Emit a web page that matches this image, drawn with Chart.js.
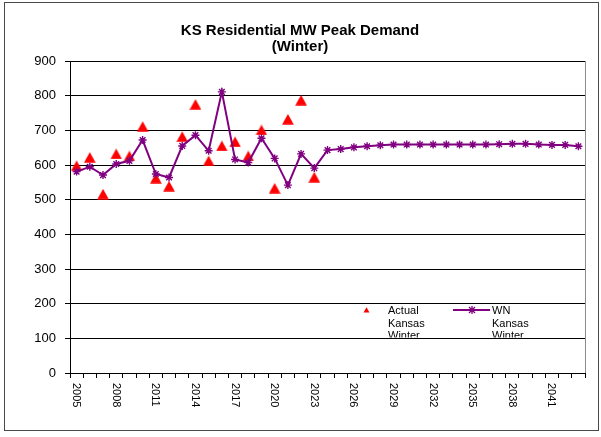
<!DOCTYPE html>
<html>
<head>
<meta charset="utf-8">
<script src="https://cdn.jsdelivr.net/npm/chart.js@4/dist/chart.umd.min.js"></script>
<style>
  html, body { margin: 0; padding: 0; background: #ffffff; }
  #wrap { width: 601px; height: 437px; }
</style>
</head>
<body>
<div id="wrap"><canvas id="c" width="601" height="437"></canvas></div>
<script>
const chartTitle = ['KS Residential MW Peak Demand', '(Winter)'];

const years = ['2005','2006','2007','2008','2009','2010','2011','2012','2013','2014',
               '2015','2016','2017','2018','2019','2020','2021','2022','2023','2024',
               '2025','2026','2027','2028','2029','2030','2031','2032','2033','2034',
               '2035','2036','2037','2038','2039','2040','2041','2042','2043'];

const xTickLabels = ['2005','2008','2011','2014','2017','2020','2023','2026','2029','2032','2035','2038','2041'];

const yTickValues = [0,100,200,300,400,500,600,700,800,900];

const actualKansasWinter = [598, 622, 516, 632, 626, 711, 562, 539, 682, 775,
                            612, 655, 667, 626, 701, 533, 732, 787, 565];

const wnKansasWinter = [581, 595, 571, 603, 612, 672, 574, 564, 655, 686,
                        641, 811, 616, 607, 677, 619, 542, 632, 591, 643,
                        646, 651, 654, 657, 659, 659, 659, 659, 659, 659,
                        659, 659, 660, 661, 661, 659, 658, 658, 654];

const seriesNames = [['Actual','Kansas','Winter'], ['WN','Kansas','Winter']];

const RED = '#FF0000';
const PURPLE = '#800080';
const FONT = '"Liberation Sans", Arial, Helvetica, sans-serif';

// Excel-like triangle marker (bounding box centred on the point)
const tri = document.createElement('canvas');
tri.width = 12; tri.height = 11;
(function(){
  const t = tri.getContext('2d');
  t.fillStyle = RED;
  t.beginPath();
  t.moveTo(6, 0.3);
  t.lineTo(11.8, 10.7);
  t.lineTo(0.2, 10.7);
  t.closePath();
  t.fill();
})();

const decor = {
  id: 'decor',
  afterDraw(chart) {
    const ctx = chart.ctx;
    const area = chart.chartArea;
    const xs = chart.scales.x;
    ctx.save();
    // title
    ctx.fillStyle = '#000';
    ctx.font = 'bold 15px ' + FONT;
    ctx.textAlign = 'center';
    ctx.textBaseline = 'middle';
    ctx.fillText(chartTitle[0], 300, 31);
    ctx.fillText(chartTitle[1], 300, 47);

    // x tick labels, rotated to read top-to-bottom
    ctx.font = '11px ' + FONT;
    ctx.textAlign = 'left';
    ctx.textBaseline = 'middle';
    years.forEach((y, i) => {
      if (xTickLabels.indexOf(y) === -1) return;
      const px = xs.getPixelForValue(i);
      ctx.save();
      ctx.translate(px, area.bottom + 10);
      ctx.rotate(Math.PI / 2);
      ctx.fillText(y, 0, 0.5);
      ctx.restore();
    });

    // plot area right border (grey)
    ctx.strokeStyle = '#8c8c8c';
    ctx.lineWidth = 1;
    ctx.beginPath();
    ctx.moveTo(Math.round(area.right) + 0.5, area.top);
    ctx.lineTo(Math.round(area.right) + 0.5, area.bottom);
    ctx.stroke();

    // legend (inside the plot)
    ctx.save();
    ctx.beginPath();
    ctx.rect(355, 304, 230, 33.5);
    ctx.clip();
    ctx.fillStyle = RED;
    ctx.beginPath();
    ctx.moveTo(366.5, 307.3);
    ctx.lineTo(369.5, 312.5);
    ctx.lineTo(363.5, 312.5);
    ctx.closePath();
    ctx.fill();
    ctx.strokeStyle = PURPLE;
    ctx.lineWidth = 2;
    ctx.beginPath();
    ctx.moveTo(453, 310);
    ctx.lineTo(490, 310);
    ctx.stroke();
    ctx.lineWidth = 1.3;
    const r = 3;
    ctx.beginPath();
    ctx.moveTo(472 - r, 310 - r); ctx.lineTo(472 + r, 310 + r);
    ctx.moveTo(472 + r, 310 - r); ctx.lineTo(472 - r, 310 + r);
    ctx.moveTo(472, 310 - r - 1); ctx.lineTo(472, 310 + r + 1);
    ctx.stroke();
    ctx.fillStyle = '#000';
    ctx.font = '11px ' + FONT;
    ctx.textAlign = 'left';
    ctx.textBaseline = 'alphabetic';
    seriesNames[0].forEach((s, k) => ctx.fillText(s, 388, 314 + k * 12.5));
    seriesNames[1].forEach((s, k) => ctx.fillText(s, 492, 314 + k * 12.5));
    ctx.restore();

    // outer chart border
    ctx.strokeStyle = '#4a4a4a';
    ctx.lineWidth = 1;
    ctx.strokeRect(4.5, 2.5, 594, 428);
    ctx.restore();
  }
};

new Chart(document.getElementById('c'), {
  type: 'line',
  data: {
    labels: years,
    datasets: [
      {
        label: 'WN Kansas Winter',
        data: wnKansasWinter,
        order: 0,
        borderColor: PURPLE,
        backgroundColor: PURPLE,
        borderWidth: 2,
        tension: 0,
        pointStyle: 'star',
        pointRadius: 4,
        pointBorderWidth: 1.4,
        pointBorderColor: PURPLE,
        fill: false
      },
      {
        label: 'Actual Kansas Winter',
        data: actualKansasWinter,
        order: 1,
        showLine: false,
        pointStyle: tri,
        pointRadius: 6,
        borderColor: RED,
        backgroundColor: RED
      }
    ]
  },
  options: {
    responsive: false,
    animation: false,
    devicePixelRatio: 1,
    layout: { padding: { left: 0, right: 16, top: 61, bottom: 0 } },
    plugins: {
      legend: { display: false },
      title: { display: false },
      tooltip: { enabled: false }
    },
    scales: {
      x: {
        type: 'category',
        offset: true,
        grid: {
          offset: true,
          drawOnChartArea: false,
          drawTicks: true,
          tickLength: 5,
          color: '#000',
          lineWidth: 1
        },
        border: { display: true, color: '#000', width: 1 },
        ticks: { display: false, autoSkip: false },
        afterFit(scale) { scale.height = 64; }
      },
      y: {
        min: yTickValues[0],
        max: yTickValues[yTickValues.length - 1],
        grid: {
          color: '#000',
          lineWidth: 1,
          drawTicks: true,
          tickLength: 5
        },
        border: { display: true, color: '#000', width: 1 },
        ticks: {
          stepSize: yTickValues[1] - yTickValues[0],
          color: '#000',
          padding: 9,
          font: { family: FONT, size: 13 }
        },
        afterFit(scale) { scale.width = 70; }
      }
    }
  },
  plugins: [decor]
});
</script>
</body>
</html>
